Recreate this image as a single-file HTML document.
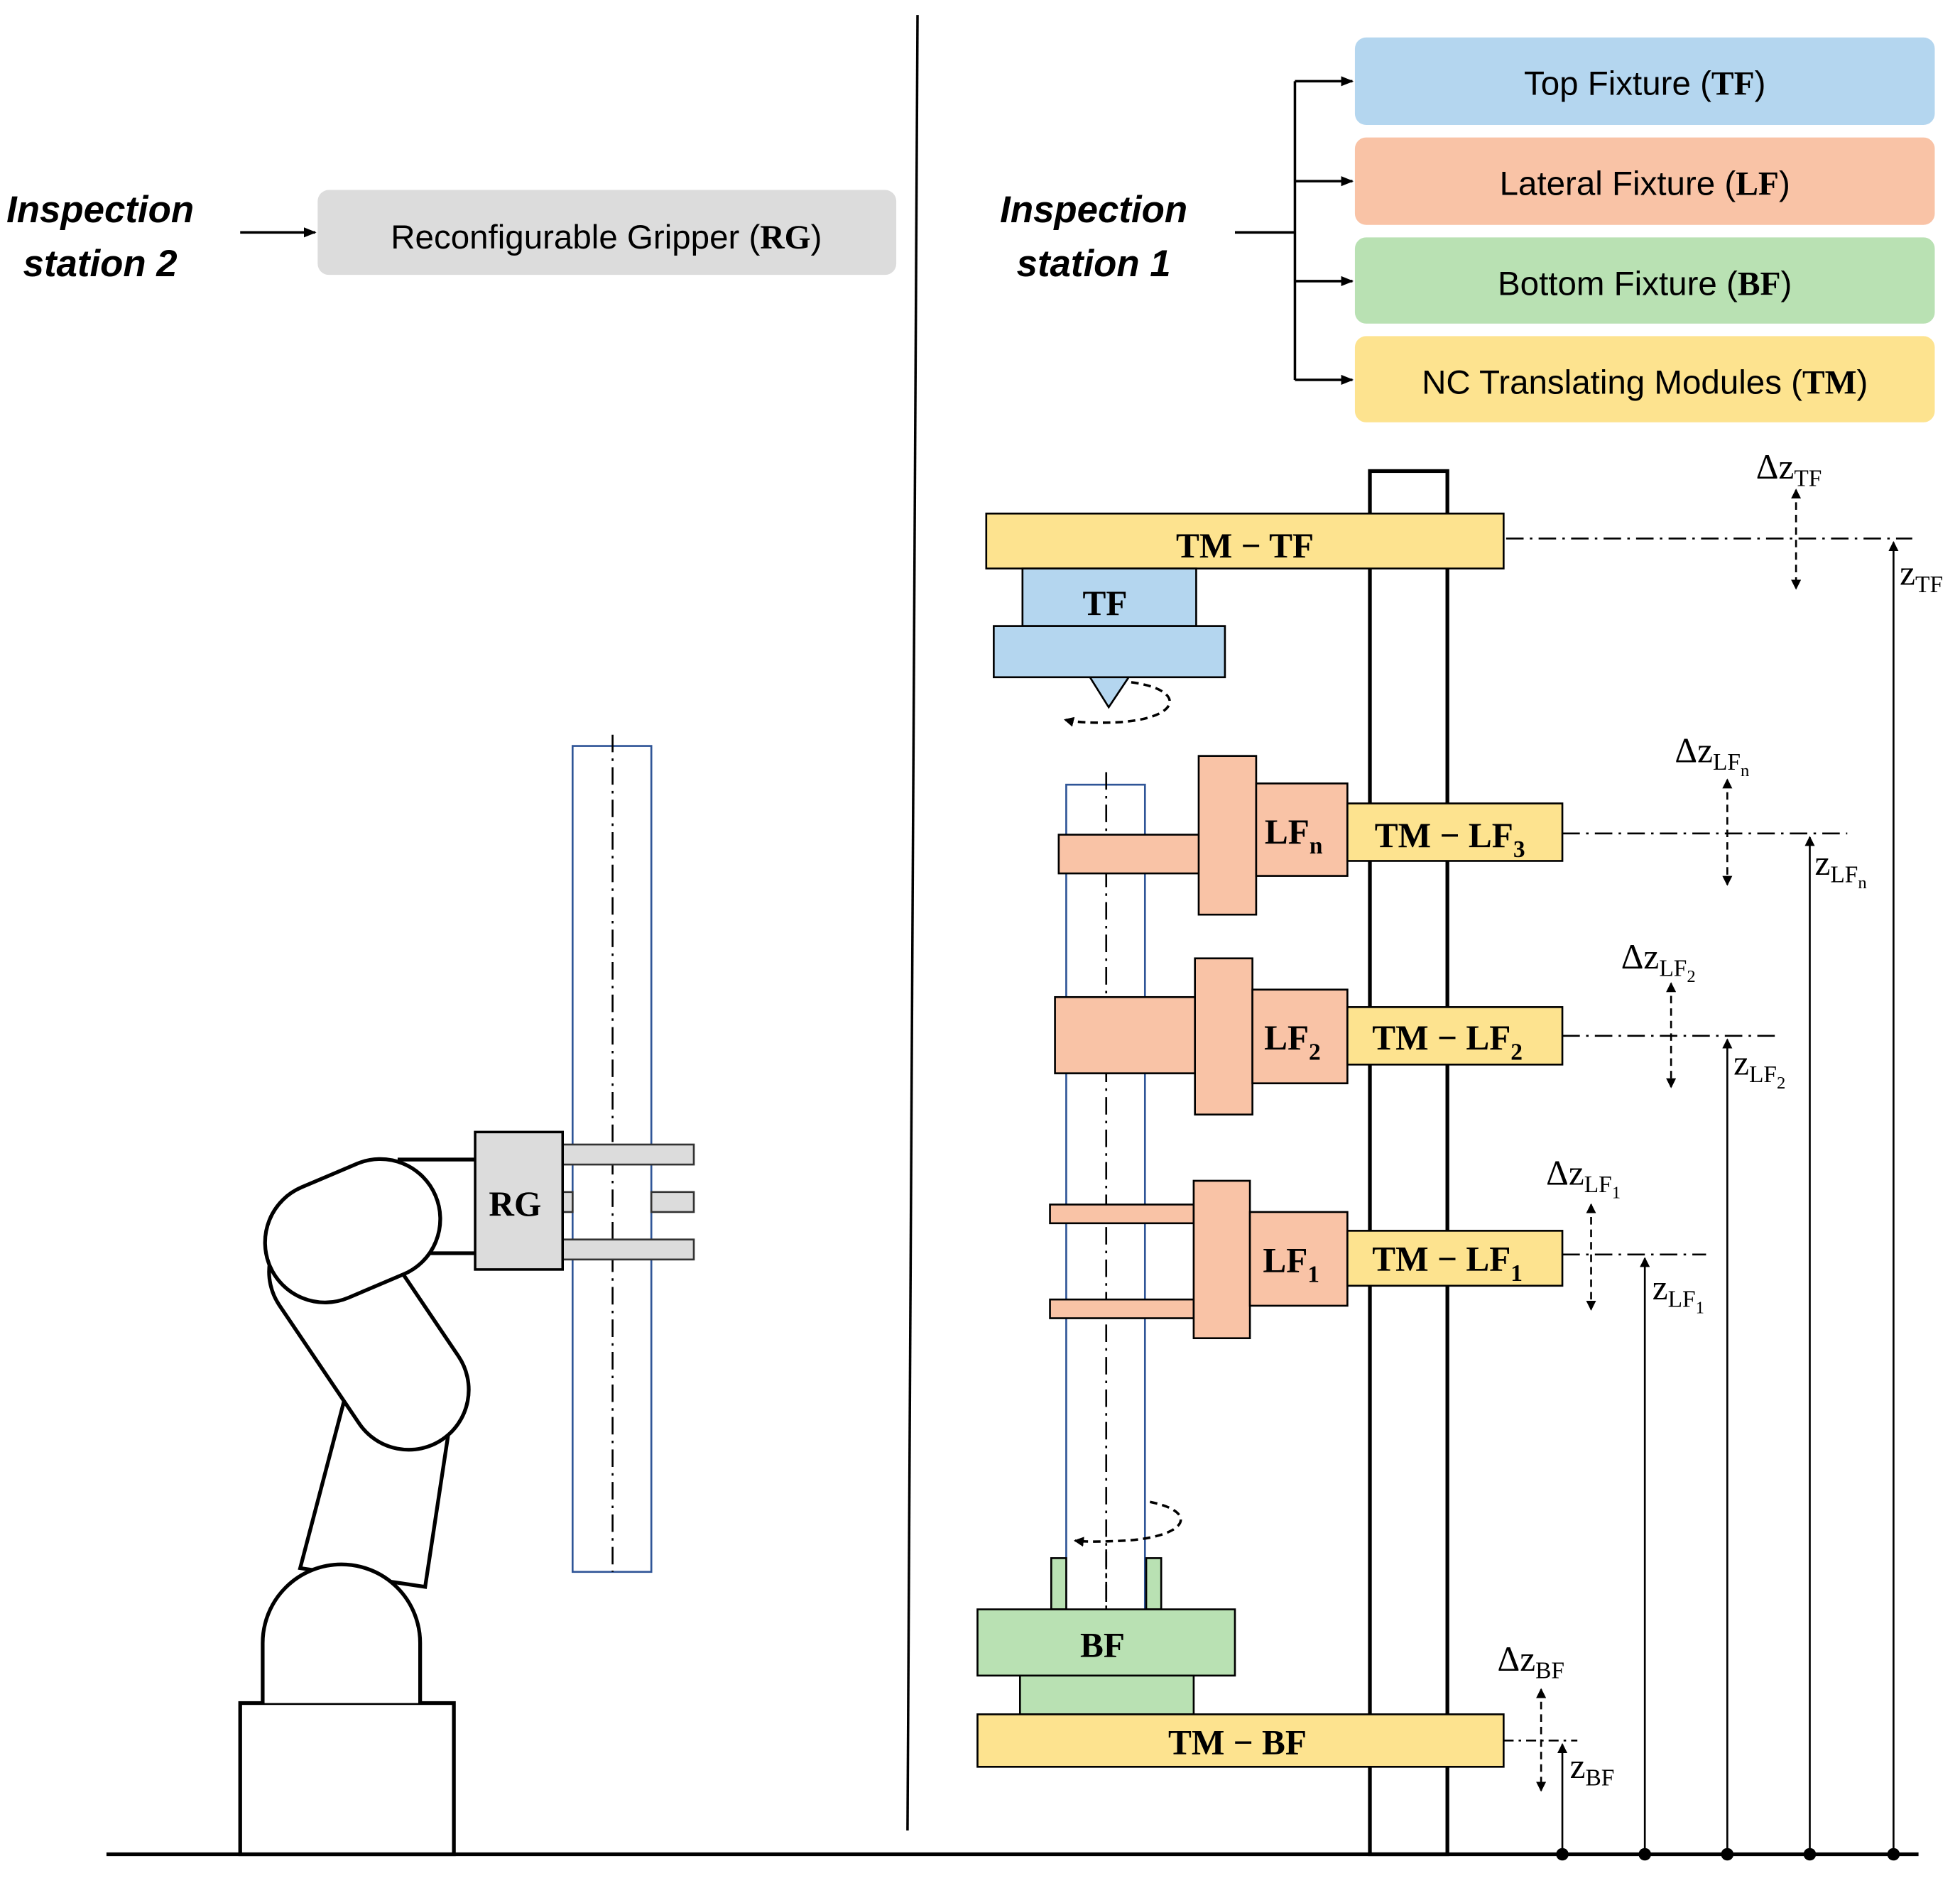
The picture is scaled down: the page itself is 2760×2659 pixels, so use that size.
<!DOCTYPE html>
<html><head><meta charset="utf-8"><style>
html,body{margin:0;padding:0;background:#fff;}
svg{display:block}
.sans{font-family:"Liberation Sans",sans-serif;}
.ser{font-family:"Liberation Serif",serif;font-weight:bold;}
</style></head><body>
<svg width="2760" height="2659" viewBox="0 0 1568 1511" xmlns="http://www.w3.org/2000/svg">
<defs>
<marker id="ah" markerWidth="10" markerHeight="10" refX="9" refY="5" orient="auto" markerUnits="userSpaceOnUse"><path d="M0,1 L10,5 L0,9 Z" fill="#000"/></marker>
<marker id="ah2" markerWidth="8" markerHeight="8" refX="7" refY="4" orient="auto-start-reverse" markerUnits="userSpaceOnUse"><path d="M0,0 L8,4 L0,8 Z" fill="#000"/></marker>
</defs>
<rect width="1568" height="1511" fill="#fff"/>

<g class="sans" font-weight="bold" font-style="italic" font-size="30" text-anchor="middle">
<text x="80" y="178">Inspection</text><text x="80" y="221">station 2</text>
<text x="875" y="178">Inspection</text><text x="875" y="221">station 1</text>
</g>
<line x1="192" y1="186" x2="252" y2="186" stroke="#000" stroke-width="2" marker-end="url(#ah)"/>
<rect x="254" y="152" width="463" height="68" rx="9" fill="#dcdcdc"/>
<text x="485" y="199" text-anchor="middle" class="sans" font-size="27">Reconfigurable Gripper (<tspan class="ser">RG</tspan>)</text>

<line x1="734" y1="12" x2="726" y2="1465" stroke="#000" stroke-width="2"/>

<g stroke="#000" stroke-width="2" fill="none">
<line x1="988" y1="186" x2="1036" y2="186"/>
<line x1="1036" y1="65" x2="1036" y2="304"/>
<line x1="1036" y1="65" x2="1082" y2="65" marker-end="url(#ah)"/>
<line x1="1036" y1="145" x2="1082" y2="145" marker-end="url(#ah)"/>
<line x1="1036" y1="225" x2="1082" y2="225" marker-end="url(#ah)"/>
<line x1="1036" y1="304" x2="1082" y2="304" marker-end="url(#ah)"/>
</g>
<rect x="1084" y="30" width="464" height="70" rx="9" fill="#b4d6ef"/>
<rect x="1084" y="110" width="464" height="70" rx="9" fill="#f9c3a6"/>
<rect x="1084" y="190" width="464" height="69" rx="9" fill="#b9e1b3"/>
<rect x="1084" y="269" width="464" height="69" rx="9" fill="#fde38f"/>
<g class="sans" font-size="27" text-anchor="middle">
<text x="1316" y="76">Top Fixture (<tspan class="ser">TF</tspan>)</text>
<text x="1316" y="156">Lateral Fixture (<tspan class="ser">LF</tspan>)</text>
<text x="1316" y="236">Bottom Fixture (<tspan class="ser">BF</tspan>)</text>
<text x="1316" y="315">NC Translating Modules (<tspan class="ser">TM</tspan>)</text>
</g>

<rect x="1096" y="377" width="62" height="1107" fill="#fff" stroke="#000" stroke-width="3"/>

<rect x="853" y="628" width="63" height="662" fill="#fff" stroke="#2f5597" stroke-width="1.5"/>
<line x1="885" y1="618" x2="885" y2="1290" stroke="#000" stroke-width="1.5" stroke-dasharray="14,5,2,5"/>

<g stroke="#000" stroke-width="1.5">
<rect x="789" y="411" width="414" height="44" fill="#fde38f"/>
<rect x="818" y="455" width="139" height="46" fill="#b4d6ef"/>
<rect x="795" y="501" width="185" height="41" fill="#b4d6ef"/>
<path d="M872,542 L903,542 L887,566 Z" fill="#b4d6ef"/>
<rect x="847" y="668" width="113" height="31" fill="#f9c3a6"/>
<rect x="959" y="605" width="46" height="127" fill="#f9c3a6"/>
<rect x="1005" y="627" width="73" height="74" fill="#f9c3a6"/>
<rect x="1078" y="643" width="172" height="46" fill="#fde38f"/>
<rect x="844" y="798" width="113" height="61" fill="#f9c3a6"/>
<rect x="956" y="767" width="46" height="125" fill="#f9c3a6"/>
<rect x="1002" y="792" width="76" height="75" fill="#f9c3a6"/>
<rect x="1078" y="806" width="172" height="46" fill="#fde38f"/>
<rect x="840" y="964" width="115" height="15" fill="#f9c3a6"/>
<rect x="840" y="1040" width="115" height="15" fill="#f9c3a6"/>
<rect x="955" y="945" width="45" height="126" fill="#f9c3a6"/>
<rect x="1000" y="970" width="78" height="75" fill="#f9c3a6"/>
<rect x="1078" y="985" width="172" height="44" fill="#fde38f"/>
<rect x="841" y="1247" width="12" height="41" fill="#b9e1b3"/>
<rect x="917" y="1247" width="12" height="41" fill="#b9e1b3"/>
<rect x="782" y="1288" width="206" height="53" fill="#b9e1b3"/>
<rect x="816" y="1341" width="139" height="31" fill="#b9e1b3"/>
<rect x="782" y="1372" width="421" height="42" fill="#fde38f"/>
</g>
<line x1="885" y1="1240" x2="885" y2="1290" stroke="#000" stroke-width="1.5" stroke-dasharray="14,5,2,5"/>

<g class="ser" font-size="28" text-anchor="middle">
<text x="996" y="446">TM − TF</text>
<text x="884" y="492">TF</text>
<text x="1035" y="675">LF<tspan font-size="19" dy="8">n</tspan></text>
<text x="1160" y="678">TM − LF<tspan font-size="19" dy="8">3</tspan></text>
<text x="1034" y="840">LF<tspan font-size="19" dy="8">2</tspan></text>
<text x="1158" y="840">TM − LF<tspan font-size="19" dy="8">2</tspan></text>
<text x="1033" y="1018">LF<tspan font-size="19" dy="8">1</tspan></text>
<text x="1158" y="1017">TM − LF<tspan font-size="19" dy="8">1</tspan></text>
<text x="882" y="1326">BF</text>
<text x="990" y="1404">TM − BF</text>
</g>

<path d="M905,546 C950,552 945,575 895,578 C875,579 860,578 852,576" fill="none" stroke="#000" stroke-width="2" stroke-dasharray="6,4" marker-end="url(#ah2)"/>
<path d="M920,1202 C960,1210 950,1230 900,1233 C880,1234 868,1234 860,1233" fill="none" stroke="#000" stroke-width="2" stroke-dasharray="6,4" marker-end="url(#ah2)"/>

<line x1="85" y1="1484" x2="1535" y2="1484" stroke="#000" stroke-width="3"/>

<g stroke="#000" stroke-width="1.5" fill="none">
<line x1="1205" y1="431" x2="1530" y2="431" stroke-dasharray="14,5,2,5"/>
<line x1="1250" y1="667" x2="1478" y2="667" stroke-dasharray="14,5,2,5"/>
<line x1="1250" y1="829" x2="1420" y2="829" stroke-dasharray="14,5,2,5"/>
<line x1="1250" y1="1004" x2="1365" y2="1004" stroke-dasharray="14,5,2,5"/>
<line x1="1203" y1="1393" x2="1262" y2="1393" stroke-dasharray="8,4,2,4"/>
<line x1="1515" y1="1484" x2="1515" y2="434" marker-end="url(#ah2)"/>
<line x1="1448" y1="1484" x2="1448" y2="670" marker-end="url(#ah2)"/>
<line x1="1382" y1="1484" x2="1382" y2="832" marker-end="url(#ah2)"/>
<line x1="1316" y1="1484" x2="1316" y2="1007" marker-end="url(#ah2)"/>
<line x1="1250" y1="1484" x2="1250" y2="1396" marker-end="url(#ah2)"/>
<line x1="1437" y1="392" x2="1437" y2="471" stroke-dasharray="6,4" marker-start="url(#ah2)" marker-end="url(#ah2)"/>
<line x1="1382" y1="624" x2="1382" y2="708" stroke-dasharray="6,4" marker-start="url(#ah2)" marker-end="url(#ah2)"/>
<line x1="1337" y1="787" x2="1337" y2="870" stroke-dasharray="6,4" marker-start="url(#ah2)" marker-end="url(#ah2)"/>
<line x1="1273" y1="964" x2="1273" y2="1048" stroke-dasharray="6,4" marker-start="url(#ah2)" marker-end="url(#ah2)"/>
<line x1="1233" y1="1352" x2="1233" y2="1433" stroke-dasharray="6,4" marker-start="url(#ah2)" marker-end="url(#ah2)"/>
</g>
<g fill="#000"><circle cx="1250" cy="1484" r="5"/><circle cx="1316" cy="1484" r="5"/><circle cx="1382" cy="1484" r="5"/><circle cx="1448" cy="1484" r="5"/><circle cx="1515" cy="1484" r="5"/></g>
<g font-family="Liberation Serif,serif" font-size="28">
<text x="1405" y="383">Δz<tspan font-size="19" dy="6">TF</tspan></text>
<text x="1520" y="468">z<tspan font-size="19" dy="6">TF</tspan></text>
<text x="1340" y="610">Δz<tspan font-size="19" dy="6">LF</tspan><tspan font-size="14" dy="5">n</tspan></text>
<text x="1452" y="700">z<tspan font-size="19" dy="6">LF</tspan><tspan font-size="14" dy="5">n</tspan></text>
<text x="1297" y="775">Δz<tspan font-size="19" dy="6">LF</tspan><tspan font-size="14" dy="5">2</tspan></text>
<text x="1387" y="860">z<tspan font-size="19" dy="6">LF</tspan><tspan font-size="14" dy="5">2</tspan></text>
<text x="1237" y="948">Δz<tspan font-size="19" dy="6">LF</tspan><tspan font-size="14" dy="5">1</tspan></text>
<text x="1322" y="1040">z<tspan font-size="19" dy="6">LF</tspan><tspan font-size="14" dy="5">1</tspan></text>
<text x="1198" y="1337">Δz<tspan font-size="19" dy="6">BF</tspan></text>
<text x="1256" y="1423">z<tspan font-size="19" dy="6">BF</tspan></text>
</g>

<rect x="458" y="597" width="63" height="661" fill="#fff" stroke="#2f5597" stroke-width="1.5"/>
<line x1="490" y1="588" x2="490" y2="1258" stroke="#000" stroke-width="1.5" stroke-dasharray="14,5,2,5"/>

<g stroke="#000" stroke-width="3" fill="#fff">
<rect x="192" y="1363" width="171" height="121"/>
<path d="M240,1255 L282,1095 L365,1105 L340,1270 Z"/>
<path d="M210,1363 L210,1315 A63,63 0 0 1 336,1315 L336,1363" />
<g transform="rotate(56 295 1065)"><rect x="190" y="1017" width="210" height="96" rx="48"/></g>
<rect x="315" y="928" width="66" height="75" stroke="none"/>
<line x1="318" y1="928" x2="381" y2="928"/>
<line x1="318" y1="1003" x2="381" y2="1003"/>
<g transform="rotate(-23 282 985)"><rect x="210" y="937" width="144" height="96" rx="48"/></g>
</g>
<g stroke="#333" stroke-width="1.5" fill="#dcdcdc">
<rect x="450" y="916" width="105" height="16"/>
<rect x="450" y="954" width="8" height="16"/>
<rect x="521" y="954" width="34" height="16"/>
<rect x="450" y="992" width="105" height="16"/>
<rect x="380" y="906" width="70" height="110" stroke="#000" stroke-width="2"/>
</g>
<text x="412" y="973" text-anchor="middle" class="ser" font-size="28">RG</text>
</svg>
</body></html>
